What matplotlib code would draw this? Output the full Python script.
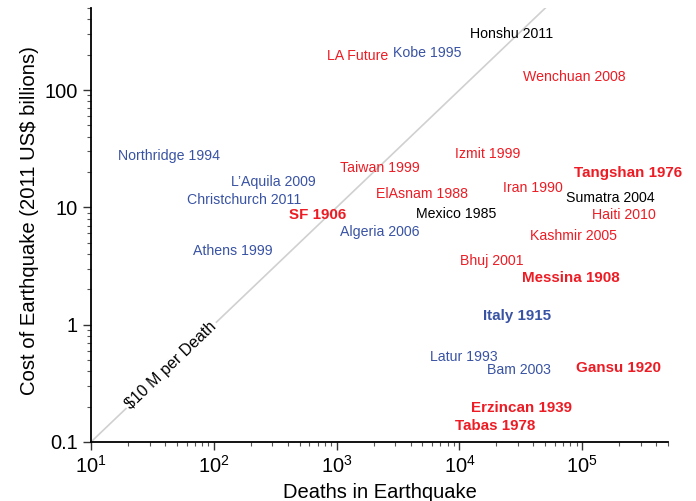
import matplotlib
matplotlib.use("Agg")
import matplotlib.pyplot as plt
import numpy as np

plt.rcParams['font.family'] = ['Liberation Sans', 'DejaVu Sans']

# earthquake labels: name, deaths, cost (2011 US$ billions), colour key, bold
names = ["Honshu 2011", "LA Future", "Kobe 1995", "Wenchuan 2008", "Northridge 1994",
         "L\u2019Aquila 2009", "Christchurch 2011", "SF 1906", "Athens 1999", "Algeria 2006",
         "Taiwan 1999", "ElAsnam 1988", "Mexico 1985", "Izmit 1999", "Iran 1990",
         "Tangshan 1976", "Sumatra 2004", "Haiti 2010", "Kashmir 2005", "Bhuj 2001",
         "Messina 1908", "Italy 1915", "Latur 1993", "Bam 2003", "Gansu 1920",
         "Erzincan 1939", "Tabas 1978"]
deaths = [26600, 1470, 5430, 86500, 43, 306, 178, 700, 142, 2260,
          2260, 4950, 9350, 17000, 39400, 237000, 169000, 216000, 85000, 18300,
          80200, 29200, 10900, 30300, 197000, 32100, 19700]
cost = [307, 200, 215, 132, 28, 17.1, 11.8, 8.8, 4.4, 6.4,
        22.5, 13.5, 9.0, 29.1, 15.2, 20.4, 12.3, 8.8, 5.9, 3.56,
        2.55, 1.21, 0.55, 0.42, 0.44, 0.20, 0.14]
groups = ["k", "r", "b", "r", "b", "b", "b", "r", "b", "b",
          "r", "r", "k", "r", "r", "r", "k", "r", "r", "r",
          "r", "b", "b", "b", "r", "r", "r"]
bold = ["SF 1906", "Tangshan 1976", "Messina 1908", "Italy 1915", "Gansu 1920",
        "Erzincan 1939", "Tabas 1978"]

colors = {"r": "#ed1c24", "b": "#3953a4", "k": "#000000"}

fig = plt.figure(figsize=(6.96, 5.01), dpi=100)
ax = fig.add_axes([0.1307, 0.1178, 0.8293, 0.8662])

# $10 M per death reference line
line_x = np.array([10, 5e4])
ax.plot(line_x, line_x * 0.01, color="#d0d0d0", lw=1.2, zorder=1)
ax.text(45, 0.45, "$10 M per Death", rotation=43.7, ha="center", va="center",
        fontsize=11.5, rotation_mode="anchor",
        bbox=dict(facecolor="white", edgecolor="none", pad=1.5), zorder=2)

for n, d, c, g in zip(names, deaths, cost, groups):
    ax.text(d, c, n, color=colors[g], ha="center", va="center_baseline",
            fontsize=10.9 if n in bold else 10.2,
            fontweight="bold" if n in bold else "normal", zorder=3)

ax.set_xscale("log")
ax.set_yscale("log")
ax.set_xlim(10, 5e5)
ax.set_ylim(0.1, 500)
ax.set_yticks([0.1, 1, 10, 100])
ax.set_yticklabels(["0.1", "1", "10", "100"])
ax.spines["top"].set_visible(False)
ax.spines["right"].set_visible(False)
ax.spines["left"].set_linewidth(1.3)
ax.spines["bottom"].set_linewidth(1.3)
ax.tick_params(which="major", length=6, width=1, labelsize=14.4, color="#333333")
ax.tick_params(which="minor", length=3, width=0.8, color="#555555")
ax.set_xlabel("Deaths in Earthquake", fontsize=14.5)
ax.set_ylabel("Cost of Earthquake (2011 US$ billions)", fontsize=14.6)
ax.yaxis.label.set_y(0.511)

fig.savefig("out.png", dpi=100)
